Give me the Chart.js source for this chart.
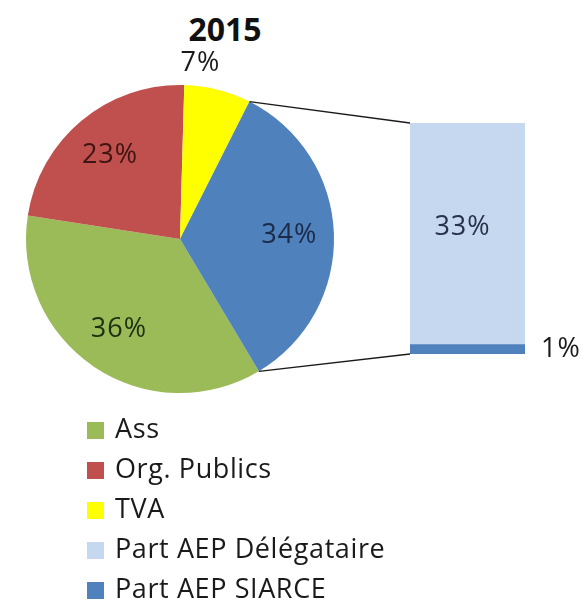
<!DOCTYPE html>
<html lang="fr">
<head>
    <meta charset="UTF-8">
    <title>2015</title>
    <script src="https://cdn.jsdelivr.net/npm/chart.js"></script>
    <style>
        body { margin: 0; background: #fff; }
        .page { position: relative; width: 584px; height: 612px; overflow: hidden; }
        .page canvas { position: absolute; left: 0; top: 0; }
        #title { position: absolute; left: 0; top: 9px; width: 450px; text-align: center;
                 font: bold 32px "Open Sans"; line-height: 40px; color: #111; }
        #legend { position: absolute; left: 87px; top: 408px; font: 27px "Open Sans";
                  letter-spacing: 0.6px; line-height: 40px; color: #1a1a1a; }
        #legend .swatch { display: inline-block; width: 17px; height: 17px; margin-right: 11px; vertical-align: -1px; }
    </style>
</head>
<body>
    <div class="page">
        <div id="title">2015</div>
        <canvas id="pieChart" width="584" height="612"></canvas>
        <canvas id="barChart" width="584" height="612"></canvas>
        <div id="legend"></div>
    </div>
    <script>
        const categories = ['Ass', 'Org. Publics', 'TVA', 'Part AEP Délégataire', 'Part AEP SIARCE'];
        const shares = [36, 23, 7, 32.6, 1.4];
        const splitFrom = 3; // the last two categories are shown in the bar

        const colours = ['#9bbb59', '#c0504d', '#ffff00', '#c6d8ef', '#4f81bd'];
        const pieInk = ['#1f3010', '#3e1513', '#1a1a1a', '#1b2a47'];

        // pie: first categories + one slice for everything in the bar
        const barTotal = shares.slice(splitFrom).reduce((a, b) => a + b, 0);
        const pieLabels = categories.slice(0, splitFrom).concat(['Part AEP']);
        const pieValues = shares.slice(0, splitFrom).concat([barTotal]);
        const pieColours = colours.slice(0, splitFrom).concat([colours[4]]);

        const labelFont = '27px "Open Sans"';

        const pieLabelsPlugin = {
            id: 'pieLabels',
            afterDatasetsDraw(chart) {
                const ctx = chart.ctx;
                const arcs = chart.getDatasetMeta(0).data;
                ctx.save();
                ctx.font = labelFont;
                ctx.letterSpacing = '1px';
                ctx.textAlign = 'center';
                ctx.textBaseline = 'middle';
                arcs.forEach((arc, i) => {
                    const v = pieValues[i];
                    const span = arc.endAngle - arc.startAngle;
                    const small = v < 10;
                    const a = small ? arc.startAngle + span * 0.2 : arc.startAngle + span / 2;
                    const r = arc.outerRadius * (small ? 1.15 : 0.71);
                    ctx.fillStyle = pieInk[i];
                    ctx.fillText(Math.round(v) + '%', arc.x + Math.cos(a) * r, arc.y + Math.sin(a) * r);
                });
                ctx.restore();
            }
        };

        const pieChart = new Chart(document.getElementById('pieChart'), {
            type: 'pie',
            data: {
                labels: pieLabels,
                datasets: [{ data: pieValues, backgroundColor: pieColours, borderWidth: 0 }]
            },
            options: {
                responsive: false,
                animation: false,
                rotation: 90 + barTotal * 3.6 / 2 - 2,
                layout: { padding: { left: 26, right: 250, top: 85, bottom: 219 } },
                plugins: { legend: { display: false }, tooltip: { enabled: false } }
            },
            plugins: [pieLabelsPlugin]
        });

        const barLabelsPlugin = {
            id: 'barLabels',
            afterDatasetsDraw(chart) {
                const ctx = chart.ctx;
                const other = pieChart.getDatasetMeta(0).data[splitFrom];
                const low = chart.getDatasetMeta(0).data[0];
                const high = chart.getDatasetMeta(1).data[0];
                const left = high.x - high.width / 2;
                const right = high.x + high.width / 2;
                ctx.save();
                ctx.strokeStyle = '#1a1a1a';
                ctx.lineWidth = 1.3;
                ctx.beginPath();
                ctx.moveTo(other.x + Math.cos(other.startAngle) * other.outerRadius,
                           other.y + Math.sin(other.startAngle) * other.outerRadius);
                ctx.lineTo(left, high.y);
                ctx.moveTo(other.x + Math.cos(other.endAngle) * other.outerRadius,
                           other.y + Math.sin(other.endAngle) * other.outerRadius);
                ctx.lineTo(left, low.base);
                ctx.stroke();

                ctx.font = labelFont;
                ctx.letterSpacing = '1px';
                ctx.textBaseline = 'middle';
                ctx.textAlign = 'center';
                ctx.fillStyle = '#263248';
                ctx.fillText(Math.round(shares[3]) + '%', high.x - 5, (high.y + high.base) / 2 - 6);
                ctx.textAlign = 'left';
                ctx.fillStyle = '#1a1a1a';
                ctx.fillText(Math.round(shares[4]) + '%', right + 16, (low.y + low.base) / 2);
                ctx.restore();
            }
        };

        new Chart(document.getElementById('barChart'), {
            type: 'bar',
            data: {
                labels: [''],
                datasets: [
                    { label: categories[4], data: [shares[4]], backgroundColor: colours[4] },
                    { label: categories[3], data: [shares[3]], backgroundColor: colours[3] }
                ]
            },
            options: {
                responsive: false,
                animation: false,
                barPercentage: 1,
                categoryPercentage: 1,
                layout: { padding: { left: 410, right: 59, top: 123, bottom: 258 } },
                scales: {
                    x: { stacked: true, display: false },
                    y: { stacked: true, display: false, min: 0, max: barTotal }
                },
                plugins: { legend: { display: false }, tooltip: { enabled: false } }
            },
            plugins: [barLabelsPlugin]
        });

        // legend, same order as the categories
        const legend = document.getElementById('legend');
        categories.forEach((name, i) => {
            const row = document.createElement('div');
            const sw = document.createElement('span');
            sw.className = 'swatch';
            sw.style.background = colours[i];
            row.appendChild(sw);
            row.appendChild(document.createTextNode(name));
            legend.appendChild(row);
        });
    </script>
</body>
</html>
